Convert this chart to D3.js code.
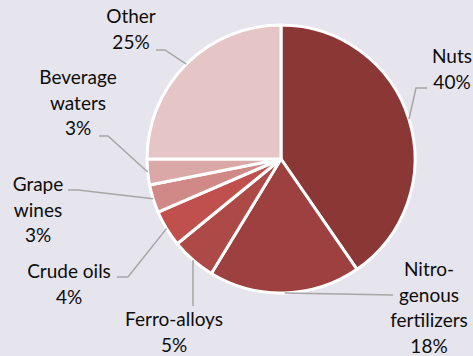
<!DOCTYPE html>
<html>
<head>
<meta charset="utf-8">
<script src="https://cdn.jsdelivr.net/npm/d3@7"></script>
<style>
  html, body { margin: 0; padding: 0; background: #e6e4ec; }
  svg { display: block; }
</style>
</head>
<body>
<div id="chart"></div>
<script>
// data
const categories = ["Nuts", "Nitrogenous fertilizers", "Ferro-alloys", "Crude oils", "Grape wines", "Beverage waters", "Other"];
const shares = [40.4, 18.3, 5.4, 4.4, 3.4, 3.1, 25.0];
const labelLines = [
    ["Nuts"],
    ["Nitro-", "genous", "fertilizers"],
    ["Ferro-alloys"],
    ["Crude oils"],
    ["Grape", "wines"],
    ["Beverage", "waters"],
    ["Other"]
];
const colors = ["#8a3735", "#9d403f", "#ad4a48", "#c0504d", "#d08987", "#daa8a7", "#e5c5c5"];

// layout
const width = 473, height = 356;
const cx = 281, cy = 159, radius = 134;
// label center x, first baseline y
const labelPos = [
    [452, 63], [429, 276], [174, 326], [69, 278], [38, 191], [78, 84], [131, 23]
];
// leader elbow and end points
const leaderPts = [
    [[416, 88], [427, 88]],
    [[393, 295], [393, 295]],
    [[193, 306], [193, 306]],
    [[128, 277], [117, 277]],
    [[78, 190], [68, 190]],
    [[108, 136], [99, 136]],
    [[165, 50], [156, 50]]
];
const lineH = 25.5;

const svg = d3.select("#chart")
    .append("svg")
    .attr("width", width)
    .attr("height", height);

svg.append("rect")
    .attr("width", width)
    .attr("height", height)
    .attr("fill", "#e6e4ec");

const pie = d3.pie().sort(null).value(d => d);
const arcs = pie(shares);
const arc = d3.arc().innerRadius(0).outerRadius(radius);

const g = svg.append("g").attr("transform", `translate(${cx},${cy})`);

g.selectAll(".slice")
    .data(arcs)
    .enter()
    .append("path")
    .attr("class", "slice")
    .attr("d", arc)
    .attr("fill", (d, i) => colors[i])
    .attr("stroke", "#fff")
    .attr("stroke-width", 3)
    .attr("stroke-linejoin", "round");

// leader lines
arcs.forEach((d, i) => {
    const mid = (d.startAngle + d.endAngle) / 2;
    const sx = cx + radius * Math.sin(mid);
    const sy = cy - radius * Math.cos(mid);
    const [e1, e2] = leaderPts[i];
    svg.append("polyline")
        .attr("points", `${sx},${sy} ${e1[0]},${e1[1]} ${e2[0]},${e2[1]}`)
        .attr("fill", "none")
        .attr("stroke", "#a6a6a6")
        .attr("stroke-width", 1.5);
});

// labels
arcs.forEach((d, i) => {
    const lines = labelLines[i].concat([Math.round(shares[i]) + "%"]);
    const t = svg.append("text")
        .attr("text-anchor", "middle")
        .attr("font-family", "Lato, 'Open Sans', sans-serif")
        .attr("font-size", 19)
        .attr("fill", "#0d0d0d");
    lines.forEach((s, k) => {
        t.append("tspan")
            .attr("x", labelPos[i][0])
            .attr("y", labelPos[i][1] + k * lineH)
            .text(s);
    });
});
</script>
</body>
</html>
